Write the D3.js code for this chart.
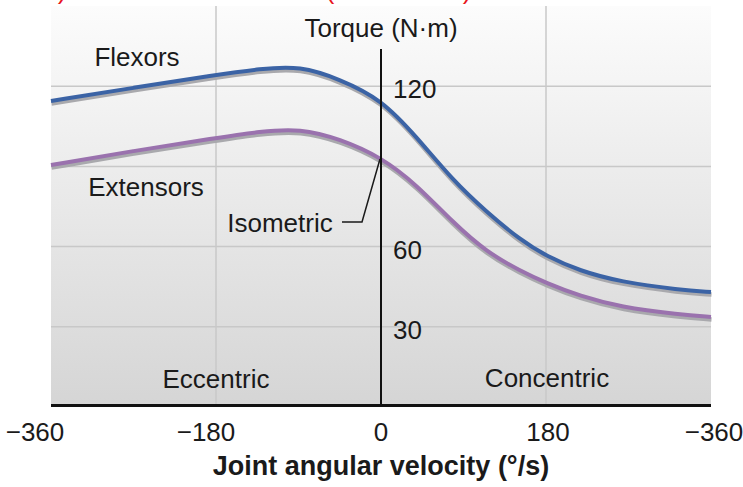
<!DOCTYPE html>
<html>
<head>
<meta charset="utf-8">
<script src="https://cdn.jsdelivr.net/npm/d3@7"></script>
<style>
  body { margin: 0; background: #fff; }
  svg { display: block; font-family: "Liberation Sans", Arial, Helvetica, sans-serif; }
</style>
</head>
<body>
<div id="chart"></div>
<script>
/* torque vs joint angular velocity, flexors and extensors */
var velocity = [-360, -270, -180, -132, -88, -45, 0, 39, 78, 115, 152, 180, 217, 261, 326, 360];
var flexors = [114.5, 119.4, 124.2, 126.5, 127.6, 122.6, 115.2, 101.0, 84.9, 73.0, 62.5, 56.5, 50.9, 46.8, 43.8, 43.0];
var extensors = [90.5, 95.8, 100.6, 103.1, 104.2, 100.3, 93.5, 83.1, 69.2, 58.0, 50.9, 46.4, 41.5, 37.4, 34.6, 33.7];
var xTicks = [-360, -180, 0, 180, 360];
var xTickLabels = ["\u2212360", "\u2212180", "0", "180", "\u2212360"];
var yTicks = [30, 60, 120];
var yGrid = [30, 60, 90, 120];
var xGrid = [-180, 180];

var width = 743, height = 487;
var x = d3.scaleLinear().domain([-360, 360]).range([51, 711]);
var y = d3.scaleLinear().domain([0, 150]).range([407, 6]);

var svg = d3.select("#chart").append("svg")
	.attr("width", width)
	.attr("height", height);

var grad = svg.append("defs").append("linearGradient")
	.attr("id", "bg")
	.attr("x1", 0).attr("y1", 0).attr("x2", 0).attr("y2", 1);
grad.append("stop").attr("offset", "0%").attr("stop-color", "#fcfcfc");
grad.append("stop").attr("offset", "100%").attr("stop-color", "#d5d5d5");

// red heading, cut off at the top edge like in the source figure
svg.selectAll(".redtop")
	.data([[62, ")"], [330, "("], [467, ")"]])
	.enter()
	.append("text")
	.attr("x", function(d) { return d[0]; })
	.attr("y", -1)
	.attr("text-anchor", "middle")
	.style("font-size", "26px")
	.style("fill", "#e8141c")
	.text(function(d) { return d[1]; });

svg.append("rect")
	.attr("x", x(-360))
	.attr("y", y(150))
	.attr("width", x(360) - x(-360))
	.attr("height", y(0) - y(150))
	.style("fill", "url(#bg)");

// grid
svg.selectAll(".hgrid")
	.data(yGrid)
	.enter()
	.append("line")
	.attr("x1", x(-360)).attr("x2", x(360))
	.attr("y1", function(d) { return y(d); })
	.attr("y2", function(d) { return y(d); })
	.style("stroke", "#c8c8c8")
	.style("stroke-width", 1.5);

svg.selectAll(".vgrid")
	.data(xGrid)
	.enter()
	.append("line")
	.attr("x1", function(d) { return x(d); })
	.attr("x2", function(d) { return x(d); })
	.attr("y1", y(150)).attr("y2", y(0))
	.style("stroke", "#c8c8c8")
	.style("stroke-width", 1.5);

// curves with their grey shadow
var line = d3.line()
	.x(function(d, i) { return x(velocity[i]); })
	.y(function(d) { return y(d); })
	.curve(d3.curveBasis);

var series = [[flexors, "#3b63a5"], [extensors, "#9a72ae"]];
series.forEach(function(s) {
	svg.append("path")
		.attr("d", line(s[0]))
		.attr("transform", "translate(0.5,2.5)")
		.style("fill", "none")
		.style("stroke", "#a9a9ad")
		.style("stroke-width", 4.5);
	svg.append("path")
		.attr("d", line(s[0]))
		.style("fill", "none")
		.style("stroke", s[1])
		.style("stroke-width", 4);
});

// axes
svg.append("line")
	.attr("x1", x(0)).attr("x2", x(0))
	.attr("y1", 49).attr("y2", y(0))
	.style("stroke", "#111")
	.style("stroke-width", 2);

svg.append("line")
	.attr("x1", x(-360)).attr("x2", x(360))
	.attr("y1", y(0) - 1.5).attr("y2", y(0) - 1.5)
	.style("stroke", "#111")
	.style("stroke-width", 3);

svg.selectAll(".ylab")
	.data(yTicks)
	.enter()
	.append("text")
	.attr("x", x(0) + 12)
	.attr("y", function(d) { return y(d) + 12; })
	.style("font-size", "26px")
	.style("fill", "#1a1a1a")
	.text(function(d) { return d; });

// the labels sit a little left of their ticks in the figure
var labelShift = [-16, -10, 0, 2, 3];
svg.selectAll(".xlab")
	.data(xTicks)
	.enter()
	.append("text")
	.attr("x", function(d) { return x(d); })
	.attr("dx", function(d, i) { return labelShift[i]; })
	.attr("y", 441)
	.attr("text-anchor", "middle")
	.style("font-size", "26px")
	.style("fill", "#1a1a1a")
	.text(function(d, i) { return xTickLabels[i]; });

svg.append("text")
	.attr("x", x(0))
	.attr("y", 37)
	.attr("text-anchor", "middle")
	.style("font-size", "26px")
	.style("fill", "#1a1a1a")
	.text("Torque (N\u00b7m)");

svg.append("text")
	.attr("x", x(0))
	.attr("y", 475)
	.attr("text-anchor", "middle")
	.style("font-size", "27px")
	.style("font-weight", "bold")
	.style("fill", "#1a1a1a")
	.text("Joint angular velocity (\u00b0/s)");

// annotations
var notes = [["Flexors", 137, 66], ["Extensors", 146, 196], ["Isometric", 280, 232], ["Eccentric", 216, 388], ["Concentric", 547, 387]];
svg.selectAll(".note")
	.data(notes)
	.enter()
	.append("text")
	.attr("x", function(d) { return d[1]; })
	.attr("y", function(d) { return d[2]; })
	.attr("text-anchor", "middle")
	.style("font-size", "26px")
	.style("fill", "#1a1a1a")
	.text(function(d) { return d[0]; });

// leader from Isometric label to the extensor curve at 0 deg/s
svg.append("path")
	.attr("d", "M342,222L362,222L" + (x(0) - 1) + "," + (y(extensors[6]) + 2))
	.style("fill", "none")
	.style("stroke", "#1a1a1a")
	.style("stroke-width", 1.5);
</script>
</body>
</html>
